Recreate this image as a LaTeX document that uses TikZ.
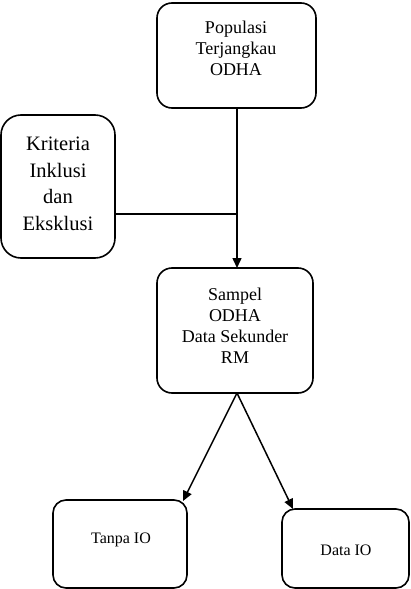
\documentclass[tikz,border=0pt]{standalone}
\usepackage{fontspec}
\setmainfont{Liberation Serif}
\usetikzlibrary{arrows.meta}
\begin{document}
\begin{tikzpicture}[x=1pt,y=-1pt,
  box/.style={draw, line width=1.6pt, rounded corners=#1, inner sep=0pt},
  box/.default=15pt,
  txt/.style={align=center, inner sep=0pt},
  conn/.style={line width=1.6pt},
  arr/.style={line width=1.5pt, -{Triangle[length=10pt,width=9pt]}}]
\fill[white] (0,0) rectangle (410,589);
\useasboundingbox (0,0) rectangle (410,589);
% boxes
\node[box, minimum width=159pt, minimum height=105pt] (pop) at (236.5,55.5) {};
\node[box=20pt, minimum width=114pt, minimum height=143pt] (kri) at (58,186.5) {};
\node[box, minimum width=156pt, minimum height=125pt] (sam) at (235,330.5) {};
\node[box=13pt, minimum width=134pt, minimum height=88pt] (tan) at (120,544) {};
\node[box=13pt, minimum width=127pt, minimum height=79pt] (dat) at (345.5,548.5) {};
% texts
\node[txt, font=\fontsize{18}{21}\selectfont] (popt) at (236,48) {Populasi\\Terjangkau\\ODHA};
\node[txt, font=\fontsize{20.5}{26.5}\selectfont] (krit) at (58,184) {Kriteria\\Inklusi\\dan\\Eksklusi};
\node[txt, font=\fontsize{18}{21}\selectfont] (samt) at (235,326) {Sampel\\ODHA\\Data Sekunder\\RM};
\node[txt, font=\fontsize{16}{19}\selectfont] (tant) at (121,540) {Tanpa IO};
\node[txt, font=\fontsize{16}{19}\selectfont] (datt) at (346,550) {Data IO};
% connectors
\coordinate (j) at (237,214);
\coordinate (popb) at (237,108);
\coordinate (samtop) at (237,268);
\coordinate (samb) at (237,393);
\coordinate (tanc) at (183,501);
\coordinate (datc) at (293,509);
\draw[conn] (popb) -- (j);
\draw[arr] (j) -- (samtop);
\draw[conn] (kri.east |- j) -- (j);
\draw[arr] (samb) -- (tanc);
\draw[arr] (samb) -- (datc);
\end{tikzpicture}
\end{document}
